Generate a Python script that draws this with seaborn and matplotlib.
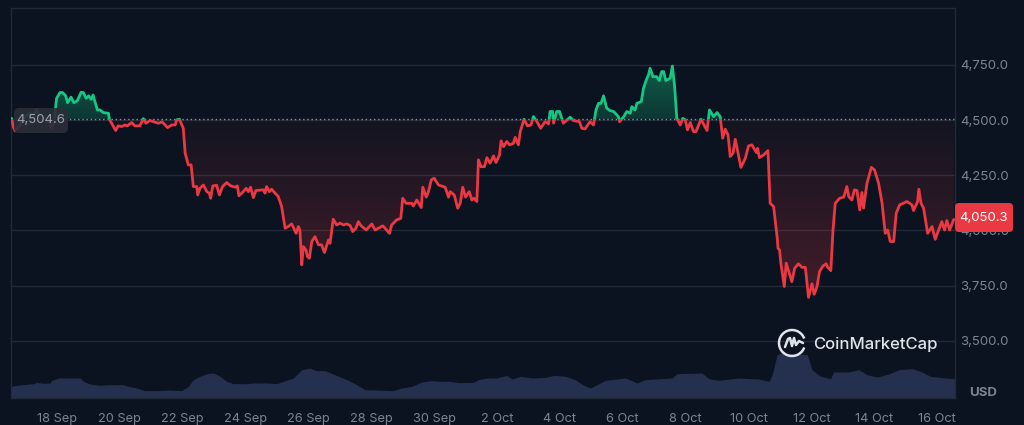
import numpy as np
import matplotlib
matplotlib.use('Agg')
import matplotlib.pyplot as plt
import seaborn as sns
from matplotlib.patches import Arc, FancyBboxPatch
from matplotlib.path import Path
from matplotlib.transforms import IdentityTransform

# x values are day numbers counted from 1 Sep (so 1 Oct = 31)
price_days = [
    16.56, 16.61, 16.67, 16.74, 16.83, 16.93, 17.04, 17.14, 17.25, 17.36, 17.44, 17.57,
    17.73, 17.83, 17.91, 17.97, 17.99, 18.10, 18.18, 18.28, 18.34, 18.45, 18.54, 18.65,
    18.77, 18.84, 18.93, 19.01, 19.09, 19.15, 19.21, 19.29, 19.37, 19.48, 19.64, 19.67,
    19.74, 19.87, 19.95, 20.06, 20.17, 20.24, 20.38, 20.48, 20.64, 20.75, 20.83, 20.96,
    21.07, 21.23, 21.35, 21.52, 21.65, 21.76, 21.81, 21.90, 22.02, 22.08, 22.18, 22.27,
    22.34, 22.45, 22.48, 22.55, 22.66, 22.77, 22.85, 22.89, 22.96, 23.08, 23.17, 23.27,
    23.40, 23.53, 23.67, 23.74, 23.79, 23.93, 24.02, 24.09, 24.16, 24.25, 24.33, 24.57,
    24.62, 24.67, 24.76, 24.83, 24.94, 25.04, 25.15, 25.26, 25.36, 25.47, 25.61, 25.68,
    25.73, 25.79, 25.84, 25.92, 25.97, 26.03, 26.11, 26.21, 26.32, 26.42, 26.51, 26.64,
    26.69, 26.79, 26.90, 27.01, 27.12, 27.22, 27.33, 27.41, 27.51, 27.59, 27.67, 27.84,
    28.02, 28.12, 28.37, 28.58, 28.65, 28.81, 28.94, 29.00, 29.11, 29.29, 29.34, 29.45,
    29.59, 29.64, 29.75, 29.82, 29.91, 30.00, 30.14, 30.35, 30.46, 30.51, 30.64, 30.75,
    30.83, 30.91, 31.00, 31.12, 31.20, 31.27, 31.36, 31.41, 31.49, 31.60, 31.68, 31.78,
    31.89, 31.97, 32.08, 32.13, 32.21, 32.31, 32.40, 32.52, 32.58, 32.68, 32.74, 32.86,
    32.97, 33.08, 33.16, 33.27, 33.39, 33.53, 33.64, 33.69, 33.77, 33.80, 33.90, 33.99,
    34.11, 34.33, 34.43, 34.62, 34.70, 34.80, 34.96, 35.07, 35.15, 35.23, 35.31, 35.39,
    35.49, 35.60, 35.71, 35.86, 35.90, 36.02, 36.13, 36.24, 36.29, 36.39, 36.45, 36.59,
    36.66, 36.75, 36.82, 36.87, 36.96, 37.08, 37.16, 37.24, 37.30, 37.37, 37.51, 37.58,
    37.65, 37.72, 37.83, 37.91, 37.99, 38.06, 38.15, 38.25, 38.33, 38.49, 38.68, 38.76,
    38.89, 39.00, 39.10, 39.18, 39.26, 39.35, 39.42, 39.51, 39.58, 39.76, 39.90, 40.00,
    40.11, 40.25, 40.29, 40.35, 40.48, 40.62, 40.69, 40.80, 40.91, 40.94, 40.99, 41.03,
    41.14, 41.20, 41.28, 41.38, 41.47, 41.59, 41.70, 41.81, 41.91, 42.02, 42.09, 42.18,
    42.26, 42.37, 42.47, 42.52, 42.62, 42.69, 42.76, 42.90, 43.03, 43.13, 43.19, 43.29,
    43.37, 43.45, 43.54, 43.61, 43.66, 43.77, 43.91, 44.01, 44.14, 44.25, 44.35, 44.43,
    44.51, 44.62, 44.70, 44.81, 45.04, 45.20, 45.25, 45.38, 45.42, 45.49, 45.57, 45.70,
    45.84, 45.94, 46.15, 46.24, 46.31, 46.40, 46.53,
]
prices = [
    4508, 4471, 4451, 4463, 4478, 4508, 4523, 4531, 4523, 4549, 4523, 4508,
    4501, 4463, 4493, 4576, 4599, 4625, 4625, 4610, 4579, 4604, 4579, 4588,
    4626, 4625, 4599, 4610, 4594, 4614, 4584, 4546, 4546, 4534, 4531, 4504,
    4486, 4453, 4474, 4471, 4478, 4474, 4489, 4474, 4474, 4507, 4486, 4498,
    4493, 4486, 4492, 4466, 4478, 4478, 4501, 4504, 4463, 4350, 4297, 4297,
    4199, 4199, 4161, 4191, 4206, 4176, 4169, 4146, 4202, 4205, 4161, 4199,
    4217, 4202, 4196, 4202, 4157, 4176, 4191, 4176, 4196, 4149, 4181, 4184,
    4169, 4199, 4176, 4187, 4169, 4154, 4108, 4010, 4018, 4030, 3987, 4018,
    4003, 3844, 3927, 3912, 3882, 3874, 3950, 3972, 3935, 3935, 3900, 3957,
    3942, 4051, 4025, 4033, 4025, 4030, 4022, 3995, 4010, 4040, 4022, 4002,
    4030, 4002, 4021, 3987, 4025, 4048, 4055, 4146, 4123, 4123, 4111, 4138,
    4104, 4196, 4151, 4176, 4229, 4237, 4206, 4196, 4151, 4176, 4161, 4101,
    4123, 4196, 4151, 4176, 4138, 4146, 4131, 4320, 4289, 4289, 4330, 4305,
    4338, 4308, 4342, 4406, 4380, 4403, 4388, 4395, 4422, 4388, 4448, 4504,
    4474, 4478, 4516, 4493, 4463, 4493, 4483, 4539, 4539, 4486, 4539, 4539,
    4486, 4513, 4498, 4493, 4463, 4460, 4493, 4478, 4546, 4576, 4576, 4610,
    4554, 4543, 4539, 4516, 4493, 4513, 4539, 4531, 4561, 4546, 4576, 4584,
    4644, 4682, 4705, 4735, 4697, 4697, 4679, 4720, 4720, 4679, 4690, 4745,
    4652, 4508, 4478, 4508, 4501, 4456, 4489, 4448, 4448, 4504, 4453, 4546,
    4516, 4534, 4516, 4418, 4459, 4433, 4335, 4350, 4413, 4286, 4327, 4383,
    4388, 4353, 4372, 4330, 4342, 4362, 4123, 4108, 3972, 3919, 3912, 3852,
    3746, 3852, 3814, 3768, 3829, 3849, 3833, 3833, 3697, 3758, 3711, 3746,
    3814, 3839, 3849, 3833, 3818, 4003, 4123, 4146, 4151, 4199, 4153, 4138,
    4184, 4181, 4093, 4172, 4101, 4214, 4286, 4274, 4214, 4123, 3987, 4002,
    3950, 3950, 4078, 4116, 4131, 4116, 4090, 4131, 4187, 4123, 4101, 3987,
    4018, 3960, 4040, 4002, 4045, 4002, 4050,
]

volume_days = [
    16.54, 16.72, 16.93, 17.25, 17.36, 17.57, 17.78, 17.83, 18.05, 18.74, 18.84, 19.05,
    19.37, 19.69, 20.11, 20.27, 20.54, 20.80, 21.17, 21.55, 21.97, 22.18, 22.34, 22.55,
    22.77, 22.98, 23.19, 23.40, 23.61, 24.04, 24.25, 24.67, 24.99, 25.20, 25.52, 25.79,
    26.05, 26.26, 26.53, 26.79, 27.22, 27.54, 27.80, 28.17, 28.70, 28.97, 29.29, 29.60,
    29.92, 30.19, 30.51, 30.77, 31.25, 31.41, 31.67, 31.99, 32.31, 32.48, 32.75, 33.12,
    33.54, 33.81, 34.18, 34.49, 34.76, 34.97, 35.18, 35.45, 36.09, 36.46, 36.72, 37.57,
    37.73, 38.52, 38.74, 39.05, 39.69, 40.33, 40.65, 40.75, 40.91, 41.07, 41.87, 42.02,
    42.29, 42.61, 42.71, 43.19, 43.51, 43.77, 44.09, 44.46, 44.78, 45.21, 45.52, 45.79,
    46.27, 46.56,
]
volumes = [
    35, 38, 40, 43, 47, 44, 45, 52, 60, 60, 50, 42,
    38, 40, 40, 35, 30, 22, 22, 24, 22, 35, 55, 65,
    73, 75, 65, 50, 43, 43, 45, 45, 43, 50, 60, 85,
    90, 82, 82, 72, 55, 40, 25, 24, 22, 30, 35, 48,
    52, 50, 50, 46, 47, 55, 60, 60, 68, 57, 65, 60,
    62, 68, 65, 55, 38, 30, 40, 53, 60, 45, 55, 60,
    73, 75, 58, 53, 60, 57, 50, 68, 130, 135, 130, 85,
    65, 58, 78, 78, 85, 70, 63, 72, 85, 88, 78, 65,
    60, 58,
]

tick_days = list(range(18, 47, 2))
tick_labels = ['18 Sep', '20 Sep', '22 Sep', '24 Sep', '26 Sep', '28 Sep', '30 Sep', '2 Oct',
               '4 Oct', '6 Oct', '8 Oct', '10 Oct', '12 Oct', '14 Oct', '16 Oct']
price_ticks = [3500, 3750, 4000, 4250, 4500, 4750]
start_price = 4504.6
last_price = 4050.3

BG = '#0b1320'
GRID = '#222a38'
TEXT = '#7c8494'
RED = '#ea3943'
GREEN = '#16c784'
W, H = 1024, 425

sns.set_theme(style='dark')
plt.rcParams['font.family'] = ['Inter', 'DejaVu Sans']

fig = plt.figure(figsize=(W / 100, H / 100), dpi=100, facecolor=BG)
rect = [11 / W, 1 - 398 / H, 944 / W, 390 / H]

# volume sits behind the price axes
ax_vol = fig.add_axes(rect, facecolor=BG)
ax_vol.fill_between(volume_days, 0, volumes, color='#252f4e', lw=0)
ax_vol.set_xlim(16.54, 46.57)
ax_vol.set_ylim(0, 1170)
ax_vol.set_xticks([])
ax_vol.set_yticks([])
for s in ax_vol.spines.values():
    s.set_visible(False)

ax = fig.add_axes(rect, zorder=1)
ax.patch.set_visible(False)
ylim = (3241, 5008)
xlim = (16.54, 46.57)

days = np.array(price_days)
vals = np.array(prices, dtype=float)


def gradient_fill(where, color, a_base, a_far, far_price):
    # area between the line and the opening price, fading towards the opening price
    poly = ax.fill_between(days, vals, start_price, where=where, interpolate=True, color='none', lw=0)
    clip = Path.make_compound_path(*poly.get_paths())
    rgba = np.zeros((256, 2, 4))
    rgba[..., :3] = matplotlib.colors.to_rgb(color)
    alpha = np.linspace(a_far, a_base, 256)[:, None]
    rgba[..., 3] = alpha
    top, bottom = (far_price, start_price) if far_price > start_price else (start_price, far_price)
    if far_price < start_price:
        rgba[..., 3] = alpha[::-1]
    im = ax.imshow(rgba, extent=(xlim[0], xlim[1], bottom, top), aspect='auto', zorder=1, interpolation='bilinear')
    im.set_clip_path(clip, transform=ax.transData)


gradient_fill(vals >= start_price, GREEN, 0.2, 0.42, 4750)
gradient_fill(vals <= start_price, RED, 0.04, 0.24, 3750)

sns.lineplot(x=days, y=vals, ax=ax, color=RED, lw=2.0, estimator=None, sort=False, zorder=3)
sns.lineplot(x=days, y=vals, ax=ax, color=GREEN, lw=2.0, estimator=None, sort=False, zorder=3)
red_line, green_line = ax.lines[-2], ax.lines[-1]
below = plt.Rectangle((xlim[0], ylim[0]), xlim[1] - xlim[0], start_price - ylim[0], transform=ax.transData)
above = plt.Rectangle((xlim[0], start_price), xlim[1] - xlim[0], ylim[1] - start_price, transform=ax.transData)
red_line.set_clip_path(below)
green_line.set_clip_path(above)

ax.axhline(start_price, color='#8b909b', lw=1, ls=(0, (1, 2)), zorder=2)

ax.set_xlim(*xlim)
ax.set_ylim(*ylim)
ax.set_xticks(tick_days)
ax.set_xticklabels(tick_labels)
ax.set_yticks(price_ticks)
ax.set_yticklabels([f'{t:,.1f}' for t in price_ticks])
ax.yaxis.tick_right()
ax.tick_params(axis='x', length=0, pad=11, labelsize=9.2, labelcolor=TEXT)
ax.tick_params(axis='y', length=0, pad=3.5, labelsize=9.5, labelcolor=TEXT)
ax.grid(axis='y', color=GRID, lw=1)
ax.grid(axis='x', visible=False)
for s in ax.spines.values():
    s.set_color(GRID)
    s.set_linewidth(1)

# labels and badges placed in figure pixels
fig.text(983 / W, 1 - 393 / H, 'USD', color=TEXT, fontsize=9.5, fontweight='bold', ha='center', va='center')

fig.add_artist(FancyBboxPatch((955, H - 232), 58, 29, boxstyle='round,pad=0,rounding_size=4',
                              transform=IdentityTransform(), fc=RED, ec='none', zorder=5))
fig.text(984 / W, 1 - 218 / H, f'{last_price:,.1f}', color='white', fontsize=9.5, ha='center', va='center', zorder=6)

fig.add_artist(FancyBboxPatch((14, H - 133), 54, 25, boxstyle='round,pad=0,rounding_size=5',
                              transform=IdentityTransform(), fc='#2a2e39', ec='none', alpha=0.92, zorder=5))
fig.text(41 / W, 1 - 120.5 / H, f'{start_price:,.1f}', color='#9a9fab', fontsize=9.5, ha='center', va='center', zorder=6)

# CoinMarketCap mark
logo = fig.add_axes([777 / W, 1 - 358 / H, 30 / W, 30 / H], zorder=4)
logo.set_xlim(-15, 15)
logo.set_ylim(-15, 15)
logo.axis('off')
logo.add_patch(Arc((0, 0), 26, 26, theta1=20, theta2=340, color='#dfe3ea', lw=1.8))
logo.plot([-7, -4, -2, 0, 2, 4, 7, 11], [-4, 4, 5, -3, 5, -2, 2, 0], color='#dfe3ea', lw=1.8)
fig.text(875.5 / W, 1 - 344 / H, 'CoinMarketCap', color='#dfe3ea', fontsize=12, fontweight='medium',
         ha='center', va='center', zorder=4)

plt.savefig('out.png', dpi=100, facecolor=BG)
